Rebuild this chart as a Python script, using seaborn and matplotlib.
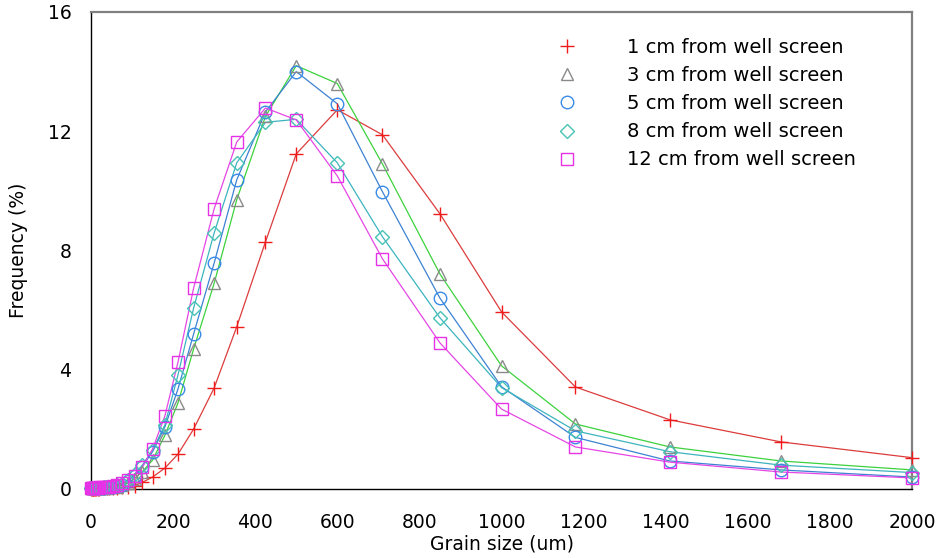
import numpy as np
import matplotlib
matplotlib.use("Agg")
import matplotlib.pyplot as plt
from matplotlib.ticker import MultipleLocator
import seaborn as sns

sizes = [1, 2, 4, 6, 8, 10, 13, 16, 20, 25, 32, 38, 45, 53, 63, 75, 90, 106, 125,
         150, 180, 212, 250, 300, 355, 425, 500, 600, 710, 850, 1000, 1180, 1410, 1680, 2000]

freq_1cm = [0.01, 0.01, 0.01, 0.01, 0.01, 0.01, 0.01, 0.01, 0.01, 0.02, 0.02, 0.02, 0.03,
            0.03, 0.04, 0.05, 0.07, 0.11, 0.22, 0.40, 0.70, 1.17, 2.01, 3.39, 5.44, 8.29,
            11.24, 12.72, 11.88, 9.23, 5.94, 3.42, 2.32, 1.58, 1.05]
freq_3cm = [0.02, 0.02, 0.02, 0.02, 0.02, 0.02, 0.02, 0.02, 0.03, 0.03, 0.03, 0.04, 0.05,
            0.06, 0.08, 0.12, 0.20, 0.35, 0.58, 0.97, 1.80, 2.89, 4.70, 6.90, 9.70, 12.50,
            14.20, 13.60, 10.90, 7.21, 4.13, 2.18, 1.41, 0.94, 0.64]
freq_5cm = [0.02, 0.02, 0.02, 0.02, 0.02, 0.03, 0.03, 0.03, 0.03, 0.04, 0.04, 0.05, 0.06,
            0.08, 0.10, 0.15, 0.27, 0.45, 0.75, 1.25, 2.08, 3.36, 5.20, 7.58, 10.37, 12.65,
            14.00, 12.92, 9.97, 6.40, 3.43, 1.73, 0.94, 0.64, 0.40]
freq_8cm = [0.03, 0.03, 0.03, 0.03, 0.03, 0.03, 0.03, 0.04, 0.04, 0.04, 0.05, 0.06, 0.07,
            0.09, 0.12, 0.18, 0.30, 0.50, 0.80, 1.30, 2.15, 3.83, 6.07, 8.59, 10.94, 12.30,
            12.40, 10.94, 8.46, 5.74, 3.40, 1.95, 1.25, 0.80, 0.55]
freq_12cm = [0.03, 0.03, 0.03, 0.03, 0.04, 0.04, 0.04, 0.04, 0.05, 0.05, 0.06, 0.07, 0.08,
             0.10, 0.14, 0.20, 0.30, 0.42, 0.74, 1.34, 2.45, 4.26, 6.74, 9.40, 11.64, 12.78,
             12.38, 10.50, 7.72, 4.90, 2.68, 1.41, 0.90, 0.57, 0.37]

labels = ["1 cm from well screen", "3 cm from well screen", "5 cm from well screen",
          "8 cm from well screen", "12 cm from well screen"]
series = [freq_1cm, freq_3cm, freq_5cm, freq_8cm, freq_12cm]
markers = ["+", "^", "o", "D", "s"]
marker_sizes = [10, 9, 9, 7, 9]
marker_colors = ["#f01c1c", "#8a8a8a", "#3a8ae6", "#46c3b4", "#e632e6"]
line_colors = ["#dc3c3c", "#3cd23c", "#3c82d2", "#3cb4be", "#e646e6"]

sns.set_style("white")
plt.rcParams["font.family"] = ["DejaVu Sans"]
for key in ["text.color", "axes.labelcolor", "xtick.color", "ytick.color"]:
    plt.rcParams[key] = "black"

fig = plt.figure(figsize=(9.4, 5.58), dpi=100)
ax = fig.add_axes([0.0968, 0.1237, 0.8735, 0.8548])

for y, lc in zip(series, line_colors):
    sns.lineplot(x=sizes, y=y, color=lc, linewidth=0.9, ax=ax, zorder=2)

for y, lab, m, ms, mc in zip(series, labels, markers, marker_sizes, marker_colors):
    sns.lineplot(x=sizes, y=y, linestyle="", marker=m, markersize=ms,
                 markerfacecolor="none", markeredgecolor=mc, markeredgewidth=1.0,
                 color=mc, label=lab, ax=ax, zorder=3, clip_on=False)

ax.set_xlim(0, 2000)
ax.set_ylim(0, 16)
ax.xaxis.set_major_locator(MultipleLocator(200))
ax.xaxis.set_minor_locator(MultipleLocator(100))
ax.yaxis.set_major_locator(MultipleLocator(4))
ax.yaxis.set_minor_locator(MultipleLocator(2))
ax.tick_params(axis="both", which="both", direction="in", top=False, right=False,
               colors="black", labelsize=13.5)
ax.tick_params(axis="both", which="major", length=9, width=1)
ax.tick_params(axis="both", which="minor", length=6, width=1)
ax.tick_params(axis="x", which="major", pad=17)
ax.tick_params(axis="y", which="major", pad=14)

for side in ["left", "bottom"]:
    ax.spines[side].set_color("black")
    ax.spines[side].set_linewidth(1)
for side in ["top", "right"]:
    ax.spines[side].set_color("#808080")
    ax.spines[side].set_linewidth(1.6)

ax.set_xlabel("Grain size (um)", fontsize=13.5, labelpad=2)
ax.set_ylabel("Frequency (%)", fontsize=13.5, labelpad=14)

ax.legend(loc="upper left", bbox_to_anchor=(0.588, 0.932), bbox_transform=fig.transFigure,
          frameon=False, fontsize=14, handlelength=1.5, handletextpad=2.3,
          labelspacing=0.47, borderpad=0, borderaxespad=0)

fig.savefig("out.png", dpi=100)
